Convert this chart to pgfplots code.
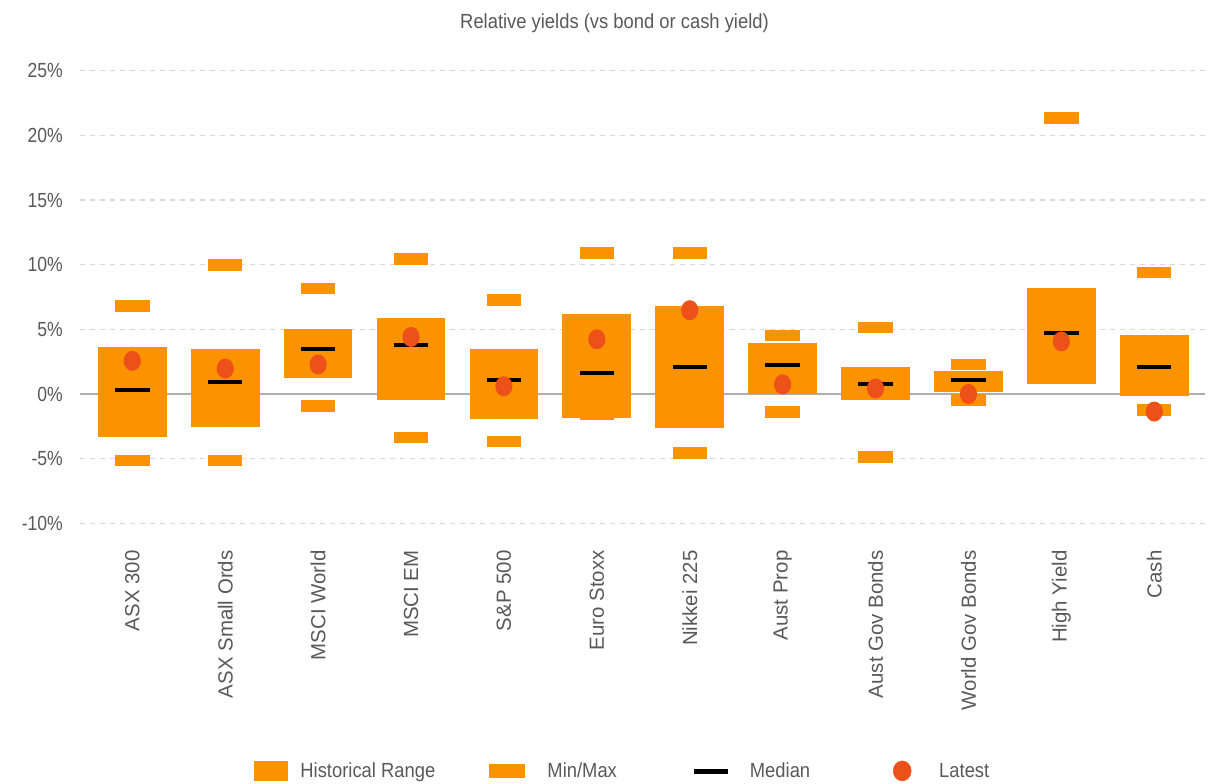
\documentclass[border=0pt]{standalone}
\usepackage{pgfplots}
\usepackage{pgfplotstable}
\pgfplotsset{compat=1.18}
\usepackage{fontspec}
\setmainfont{Liberation Sans}
\newfontfamily\narrowfont{Liberation Sans}[FakeStretch=0.86]
\newfontfamily\legfont{Liberation Sans}[FakeStretch=0.9]
\definecolor{cbox}{HTML}{FB9300}
\definecolor{clatest}{HTML}{EE5019}
\definecolor{ctext}{HTML}{595959}
\definecolor{cgrid}{HTML}{D9D9D9}
\definecolor{czero}{HTML}{AFAFAF}

% marks sized in px (1px = 1bp here)
\pgfdeclareplotmark{minmax}{\pgfpathrectangle{\pgfpoint{-17.2bp}{-5.8bp}}{\pgfpoint{34.4bp}{11.6bp}}\pgfusepathqfill}
\pgfdeclareplotmark{median}{\pgfpathrectangle{\pgfpoint{-17.2bp}{-2bp}}{\pgfpoint{34.4bp}{4bp}}\pgfusepathqfill}
\pgfdeclareplotmark{latest}{\pgfpathellipse{\pgfpointorigin}{\pgfpoint{8.6bp}{0bp}}{\pgfpoint{0bp}{10bp}}\pgfusepathqfill}

% lo/hi = historical range, med = median, min/max, latest
\pgfplotstableread{
x lo hi med min max latest
0 -3.34 3.64 0.28 -5.14 6.80 2.56
1 -2.57 3.49 0.90 -5.14 9.98 1.97
2 1.20 5.05 3.49 -0.91 8.17 2.28
3 -0.49 5.87 3.79 -3.35 10.45 4.41
4 -1.95 3.48 1.05 -3.66 7.27 0.60
5 -1.87 6.18 1.64 -1.55 10.90 4.23
6 -2.64 6.79 2.10 -4.58 10.90 6.48
7 0.00 3.95 2.25 -1.37 4.52 0.74
8 -0.49 2.10 0.74 -4.86 5.14 0.43
9 0.13 1.79 1.05 -0.48 2.27 0.00
10 0.74 8.18 4.69 1.50 21.34 4.07
11 -0.18 4.56 2.12 -1.22 9.39 -1.36
}\datatable

\begin{document}
\begin{tikzpicture}
\path[use as bounding box] (0,0) rectangle (1209bp,-784bp);
\node[text=ctext, font=\legfont\fontsize{20.5}{24}\selectfont] at (614.5bp,-23bp) {Relative yields (vs bond or cash yield)};

\begin{axis}[
    at={(80bp,-523.3bp)}, anchor=south west,
    scale only axis, width=1125bp, height=452.6bp,
    xmin=-0.563, xmax=11.546, ymin=-10, ymax=25,
    axis line style={draw=none},
    tick style={draw=none},
    ytick={-10,-5,...,25},
    yticklabels={-10\%,-5\%,0\%,5\%,10\%,15\%,20\%,25\%},
    xtick={0,...,11},
    xticklabels={ASX 300,ASX Small Ords,MSCI World,MSCI EM,S\&P 500,Euro Stoxx,Nikkei 225,Aust Prop,Aust Gov Bonds,World Gov Bonds,High Yield,Cash},
    ymajorgrids,
    grid style={dash pattern=on 5bp off 5bp, color=cgrid, line width=1.4bp},
    extra y ticks={0}, extra y tick labels={},
    extra y tick style={grid style={solid, color=czero, line width=1.6bp}},
    yticklabel style={anchor=east, inner sep=0pt, text=ctext, font=\narrowfont\fontsize{20.5}{24}\selectfont},
    yticklabel shift=17bp,
    xticklabel style={rotate=90, anchor=east, inner sep=0pt, text=ctext, font=\fontsize{20.5}{24}\selectfont},
    xticklabel shift=27bp,
    legend columns=4,
    legend style={at={(0.1547,-0.547)}, anchor=west, draw=none, fill=none,
        inner sep=0pt, outer sep=0pt,
        font=\legfont\fontsize{20.5}{24}\selectfont, text=ctext,
        nodes={inner sep=0pt},
        /tikz/every odd column/.append style={column sep=13bp},
        /tikz/every even column/.append style={column sep=54bp}},
]
% historical range: a thick bar from lo up to hi (0.74 category wide)
\addplot[forget plot, only marks, mark=none, mark options={draw=none, fill=none, scale=0},
    error bars/.cd, y dir=plus, y explicit, error mark=none,
    error bar style={line width=68.75bp, color=cbox}]
    table[x=x, y=lo, y error plus expr=\thisrow{hi}-\thisrow{lo}] {\datatable};
\addplot[forget plot, only marks, mark=minmax, color=cbox] table[x=x, y=min] {\datatable};
\addplot[forget plot, only marks, mark=minmax, color=cbox] table[x=x, y=max] {\datatable};
\addplot[forget plot, only marks, mark=median, color=black] table[x=x, y=med] {\datatable};
\addplot[forget plot, only marks, mark=latest, color=clatest] table[x=x, y=latest] {\datatable};
\addlegendimage{legend image code/.code={\fill[cbox] (0bp,-9.5bp) rectangle (33bp,9.5bp);}}
\addlegendentry{Historical Range}
\addlegendimage{legend image code/.code={\path[draw=none] (0bp,0bp) -- (45bp,0bp); \fill[cbox] (0bp,-6.5bp) rectangle (35bp,6.5bp);}}
\addlegendentry{Min/Max}
\addlegendimage{legend image code/.code={\path[draw=none] (-23bp,0bp) -- (43bp,0bp); \fill[black] (0bp,-2bp) rectangle (33bp,2bp);}}
\addlegendentry{Median}
\addlegendimage{legend image code/.code={\path[draw=none] (-29bp,0bp) -- (33bp,0bp); \fill[clatest] (9bp,0bp) ellipse [x radius=9bp, y radius=10bp];}}
\addlegendentry{Latest}
\end{axis}
\end{tikzpicture}
\end{document}
